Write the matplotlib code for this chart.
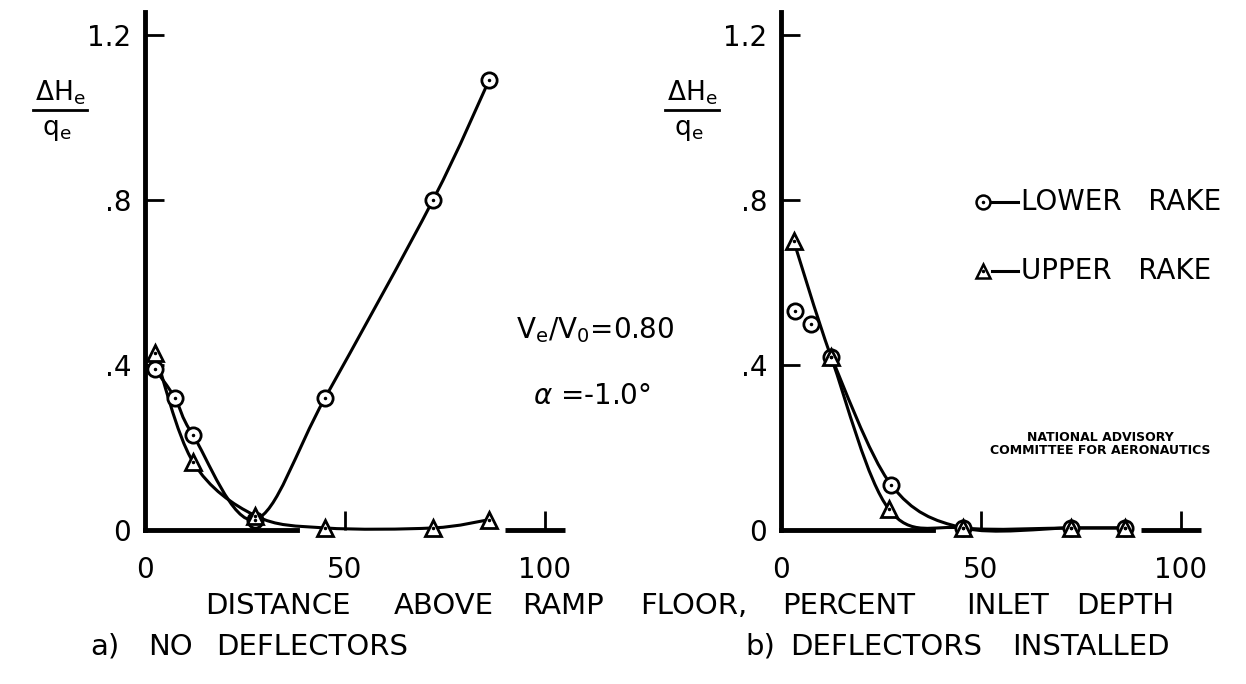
import numpy as np
import matplotlib
matplotlib.use("Agg")
import matplotlib.pyplot as plt
from matplotlib.path import Path
from matplotlib.patches import PathPatch

# ---- data ----
# a) no deflectors
a_lower_x = [2.5, 7.5, 12, 27.5, 45, 72, 86]
a_lower_y = [0.39, 0.32, 0.23, 0.025, 0.32, 0.80, 1.09]
a_upper_x = [2.5, 12, 27.5, 45, 72, 86]
a_upper_y = [0.43, 0.165, 0.035, 0.005, 0.005, 0.025]
# b) deflectors installed
b_lower_x = [3.5, 7.5, 12.5, 27.5, 45.5, 72.5, 86]
b_lower_y = [0.53, 0.50, 0.42, 0.11, 0.005, 0.005, 0.005]
b_upper_x = [3.2, 12.5, 27, 45.5, 72.5, 86]
b_upper_y = [0.70, 0.42, 0.05, 0.005, 0.005, 0.005]

x_ticks = [0, 50, 100]
y_ticks = [0, 0.4, 0.8, 1.2]
y_ticklabels = ["0", ".4", ".8", "1.2"]

xlabel_words = ["DISTANCE", "ABOVE", "RAMP", "FLOOR,", "PERCENT", "INLET", "DEPTH"]
xlabel_left = [205, 394, 522, 640, 782, 966, 1076]
caption_words = ["a)", "NO", "DEFLECTORS", "b)", "DEFLECTORS", "INSTALLED"]
caption_left = [90, 148, 216, 745, 790, 1012]

W, H = 1246, 684
FS = 20
FS_TXT = 21
plt.rcParams["font.family"] = "DejaVu Sans"


def smooth(x, y):
    # catmull-rom through the points, drawn as bezier path
    p = np.column_stack([x, y]).astype(float)
    verts = [p[0]]
    codes = [Path.MOVETO]
    n = len(p)
    for i in range(n - 1):
        p0 = p[i - 1] if i > 0 else p[i]
        p1, p2 = p[i], p[i + 1]
        p3 = p[i + 2] if i + 2 < n else p[i + 1]
        verts += [p1 + (p2 - p0) / 6, p2 - (p3 - p1) / 6, p2]
        codes += [Path.CURVE4] * 3
    return Path(verts, codes)


def make_axes(fig, x0px, xlim, ylim, y0px=530, sx=4.0, sy=412.5):
    left = x0px + xlim[0] * sx
    right = x0px + xlim[1] * sx
    bottom = y0px - ylim[0] * sy
    top = y0px - ylim[1] * sy
    ax = fig.add_axes([left / W, 1 - bottom / H, (right - left) / W, (bottom - top) / H])
    ax.set_xlim(*xlim)
    ax.set_ylim(*ylim)
    for s in ["top", "right"]:
        ax.spines[s].set_visible(False)
    ax.spines["left"].set_position(("data", 0))
    ax.spines["bottom"].set_position(("data", 0))
    ax.spines["left"].set_linewidth(3.5)
    ax.spines["bottom"].set_linewidth(3.5)
    ax.spines["left"].set_bounds(0, 1.255)
    ax.spines["bottom"].set_bounds(0, 38)
    ax.hlines(0, 90, 105, color="black", lw=3.5, clip_on=False)
    ax.set_xticks(x_ticks)
    ax.set_xticklabels([str(t) for t in x_ticks])
    ax.set_yticks(y_ticks)
    ax.set_yticklabels(y_ticklabels)
    ax.tick_params(axis="x", direction="in", length=14, width=2, pad=19, labelsize=FS)
    ax.tick_params(axis="y", direction="in", length=14, width=2, pad=10, labelsize=FS)
    ax.xaxis.get_major_ticks()[0].tick1line.set_visible(False)
    ax.yaxis.get_major_ticks()[0].tick1line.set_visible(False)
    ax.patch.set_alpha(0)
    return ax


def draw_series(ax, x, y, marker, start=0):
    ax.add_patch(PathPatch(smooth(x[start:], y[start:]), fill=False, lw=2.2,
                           edgecolor="black", zorder=2))
    ax.plot(x, y, ls="none", marker=marker, ms=11 if marker == "o" else 12,
            mfc="white", mec="black", mew=2, zorder=3, clip_on=False)
    ax.plot(x, y, ls="none", marker=".", ms=3, color="black", zorder=4, clip_on=False)


fig = plt.figure(figsize=(W / 100, H / 100), dpi=100)
fig.patch.set_facecolor("white")

ax1 = make_axes(fig, 145, (-6, 112), (-0.06, 1.26))
draw_series(ax1, a_lower_x, a_lower_y, "o")
draw_series(ax1, a_upper_x, a_upper_y, "^")

ax2 = make_axes(fig, 781, (-6, 112), (-0.06, 1.26))
draw_series(ax2, b_lower_x, b_lower_y, "o", start=2)
draw_series(ax2, b_upper_x, b_upper_y, "^")


def fy(py):
    return 1 - py / H


# y label fraction  dHe / qe
for xc in (60, 692):
    fig.text(xc / W, fy(93), r"$\mathregular{\Delta H_e}$", ha="center", va="center", fontsize=19)
    fig.text((xc - 3) / W, fy(130), r"$\mathregular{q_e}$", ha="center", va="center", fontsize=19)
    fig.add_artist(plt.Line2D([(xc - 27) / W, (xc + 27) / W], [fy(110), fy(110)],
                              color="black", lw=2))

# conditions
fig.text(595 / W, fy(330), r"$\mathregular{V_e/V_0}$=0.80", ha="center", va="center", fontsize=FS)
fig.text(592 / W, fy(396), r"$\alpha$ =-1.0$\degree$", ha="center", va="center", fontsize=FS)

# legend
for yk, mk, lab in ((202, "o", "LOWER   RAKE"), (271, "^", "UPPER   RAKE")):
    fig.add_artist(plt.Line2D([992 / W, 1018 / W], [fy(yk), fy(yk)], color="black", lw=2.2))
    fig.add_artist(plt.Line2D([983 / W], [fy(yk)], marker=mk, ms=10, mfc="white",
                              mec="black", mew=1.8, ls="none"))
    fig.add_artist(plt.Line2D([983 / W], [fy(yk)], marker=".", ms=3, color="black", ls="none"))
    fig.text(1021 / W, fy(yk), lab, ha="left", va="center", fontsize=FS)

fig.text(1100 / W, fy(444), "NATIONAL ADVISORY\nCOMMITTEE FOR AERONAUTICS", ha="center",
         va="center", fontsize=9, fontweight="bold", linespacing=1.0)

# axis title and captions
for word, xl in zip(xlabel_words, xlabel_left):
    fig.text(xl / W, fy(606), word, ha="left", va="center", fontsize=FS_TXT)
for word, xl in zip(caption_words, caption_left):
    fig.text(xl / W, fy(647), word, ha="left", va="center", fontsize=FS_TXT)

fig.savefig("out.png", dpi=100, facecolor="white")
